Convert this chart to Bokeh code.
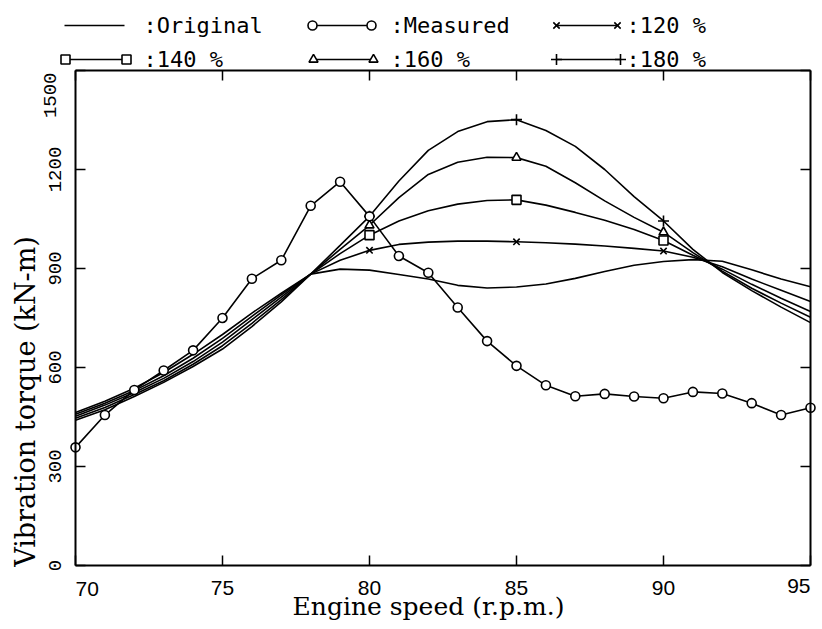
import math
from bokeh.plotting import figure
from bokeh.models import Range1d, FixedTicker, LinearAxis
from bokeh.embed import file_html
from bokeh.resources import INLINE
from bokeh.core.properties import value

# ---------------- data ----------------
rpm = [70, 71, 72, 73, 74, 75, 76, 77, 78, 79, 80, 81, 82,
       83, 84, 85, 86, 87, 88, 89, 90, 91, 92, 93, 94, 95]
measured = [358, 456, 532, 591, 652, 750, 869, 925, 1090, 1163, 1058, 938, 887,
            782, 680, 605, 546, 513, 520, 512, 507, 526, 521, 492, 456, 478]
original = [464, 498, 537, 585, 640, 700, 765, 825, 883, 898, 895, 882, 868,
            849, 841, 844, 853, 870, 891, 910, 921, 927, 922, 896, 868, 845]
pct120 = [458, 492, 530, 575, 628, 688, 755, 820, 883, 925, 955, 973, 980,
          983, 983, 981, 978, 974, 968, 961, 953, 934, 905, 868, 834, 800]
pct140 = [452, 486, 524, 567, 618, 677, 745, 813, 883, 945, 1001, 1044, 1075,
          1095, 1106, 1108, 1092, 1070, 1046, 1018, 985, 940, 898, 852, 810, 770]
pct160 = [446, 479, 518, 560, 610, 666, 734, 806, 883, 958, 1031, 1115, 1185,
          1222, 1237, 1236, 1210, 1160, 1105, 1055, 1010, 948, 892, 840, 795, 752]
pct180 = [440, 472, 512, 555, 603, 656, 724, 799, 883, 970, 1058, 1165, 1258,
          1315, 1345, 1351, 1318, 1270, 1200, 1118, 1044, 958, 888, 833, 783, 736]
marker_rpm = [80, 85, 90]
x_ticks = [70, 75, 80, 85, 90, 95]
y_ticks = [0, 300, 600, 900, 1200, 1500]
x_title = "Engine speed (r.p.m.)"
y_title = "Vibration torque (kN-m)"

# ---------------- layout geometry (pixels) ----------------
W, H = 822, 629
BOX_L, BOX_R, BOX_T, BOX_B = 75, 810, 70, 565
x0, x1 = x_ticks[0], x_ticks[-1]
y0, y1 = y_ticks[0], y_ticks[-1]
xs = (BOX_R - BOX_L) / (x1 - x0)     # px per rpm
ys = (BOX_B - BOX_T) / (y1 - y0)     # px per kN-m
x_range = Range1d(x0 - BOX_L / xs, x1 + (W - BOX_R) / xs)
y_range = Range1d(y0 - (H - BOX_B) / ys, y1 + BOX_T / ys)

p = figure(width=W, height=H, x_range=x_range, y_range=y_range,
           output_backend="svg", toolbar_location=None, min_border=0,
           x_axis_location=None, y_axis_location=None)
p.grid.visible = False
p.outline_line_color = None
p.extra_x_ranges = {"px": Range1d(0, W)}
p.extra_y_ranges = {"px": Range1d(0, H)}


def top(y):
    return H - y


def mk_axis(ticks, loc, bounds, show_labels):
    ax = LinearAxis(ticker=FixedTicker(ticks=ticks), fixed_location=loc, bounds=bounds,
                    major_tick_in=10, major_tick_out=0, minor_tick_line_color=None,
                    axis_line_color="black", axis_line_width=2,
                    major_tick_line_color="black", major_tick_line_width=1.5,
                    major_label_text_color="black")
    if not show_labels:
        ax.major_label_overrides = {t: "" for t in ticks}
    return ax


Y_FONT, Y_SIZE = "Liberation Mono", "19px"
X_FONT, X_SIZE = "Liberation Sans", "21px"

ax_left = mk_axis(y_ticks, x0, (y0, y1), True)
ax_left.major_label_overrides = {y1: ""}
ax_left.major_label_orientation = "vertical"
ax_left.major_label_text_font = Y_FONT
ax_left.major_label_text_font_size = Y_SIZE
ax_left.major_label_standoff = 15

ax_bottom = mk_axis(x_ticks, y0, (x0, x1), True)
ax_bottom.major_label_overrides = {x0: "", x1: ""}
ax_bottom.major_label_text_font = X_FONT
ax_bottom.major_label_text_font_size = X_SIZE
ax_bottom.major_label_standoff = 15

ax_right = mk_axis(y_ticks, x1, (y0, y1), False)
ax_top = mk_axis(x_ticks, y1, (x0, x1), False)
p.add_layout(ax_left, "left")
p.add_layout(ax_bottom, "below")
p.add_layout(ax_right, "right")
p.add_layout(ax_top, "above")

# end tick labels, kept inside the box edges as in the original
p.text([x0], [y0 - 16 / ys], text=[str(x0)], text_align="left", text_baseline="top",
       text_font=value(X_FONT), text_font_size=X_SIZE, text_color="black")
p.text([x1], [y0 - 13 / ys], text=[str(x1)], text_align="right", text_baseline="top",
       text_font=value(X_FONT), text_font_size=X_SIZE, text_color="black")
p.text([x0 - 26 / xs], [y1 - 2 / ys], text=[str(y1)], angle=math.pi / 2,
       text_align="right", text_baseline="middle",
       text_font=value(Y_FONT), text_font_size=Y_SIZE, text_color="black")

# axis titles
p.text([428], [top(606)], text=[x_title], text_align="center", text_baseline="middle",
       text_font=value("DejaVu Serif"), text_font_size="25px", text_color="black",
       x_range_name="px", y_range_name="px")
p.text([25], [top(401)], text=[y_title], angle=math.pi / 2, text_align="center",
       text_baseline="middle", text_font=value("DejaVu Serif"), text_font_size="27px",
       text_color="black", x_range_name="px", y_range_name="px")

# ---------------- curves ----------------
sims = [(original, None), (pct120, "x"), (pct140, "square"), (pct160, "triangle"), (pct180, "cross")]
for ser, mk in sims:
    p.line(rpm, ser, line_color="black", line_width=1.6)
    if mk is not None:
        my = [ser[rpm.index(m)] for m in marker_rpm]
        p.scatter(marker_rpm, my, marker=mk, size=9 if mk != "cross" else 11,
                  fill_color="white", line_color="black", line_width=1.6)

p.line(rpm, measured, line_color="black", line_width=1.6)
p.scatter(rpm, measured, marker="circle", size=9, fill_color="white",
          line_color="black", line_width=1.6)

# ---------------- legend (pixel positions) ----------------
legend_items = [
    # label, marker, sample x-start, sample x-end, text x, row y (from top)
    (":Original", None, 64, 124, 143, 25),
    (":Measured", "circle", 312, 371, 390, 25),
    (":120 %", "x", 556, 617, 626, 25),
    (":140 %", "square", 65, 126, 143, 59),
    (":160 %", "triangle", 313, 373, 390, 59),
    (":180 %", "cross", 556, 620, 626, 59),
]
for lab, mk, sx0, sx1, tx, ry in legend_items:
    p.segment(x0=[sx0], y0=[top(ry)], x1=[sx1], y1=[top(ry)], line_color="black",
              line_width=1.6, x_range_name="px", y_range_name="px")
    if mk is not None:
        p.scatter([sx0, sx1], [top(ry), top(ry)], marker=mk, size=9 if mk != "cross" else 11,
                  fill_color="white", line_color="black", line_width=1.6,
                  x_range_name="px", y_range_name="px")
    p.text([tx], [top(ry)], text=[lab], text_font=value("DejaVu Sans Mono"),
           text_font_size="22px", text_baseline="middle", text_align="left",
           text_color="black", x_range_name="px", y_range_name="px")

open("out.html", "w").write(file_html(p, INLINE))
